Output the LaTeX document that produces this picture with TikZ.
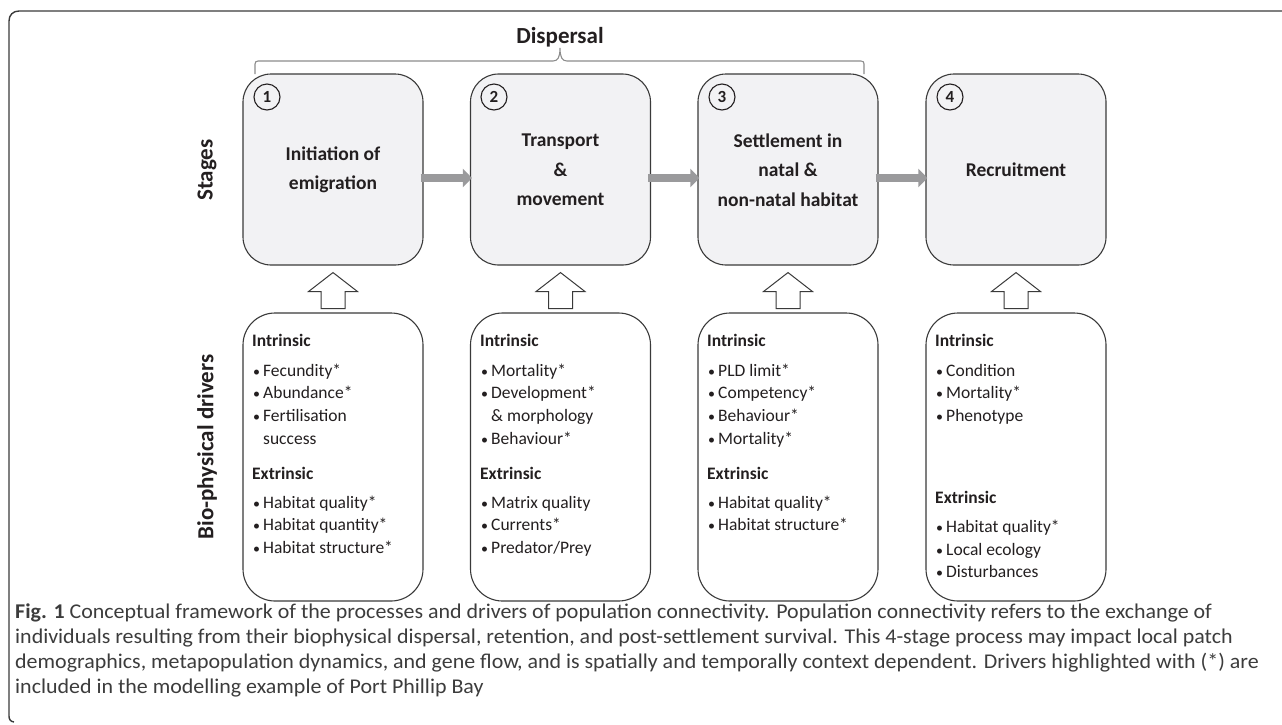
\documentclass[tikz,border=0pt]{standalone}
\usepackage{fontspec}
\setmainfont{Carlito}
\usetikzlibrary{arrows.meta}
\definecolor{boxline}{HTML}{3A3A3A}
\definecolor{boxfill}{HTML}{F2F2F4}
\definecolor{arrowgray}{HTML}{9A9A9C}
\definecolor{bracketgray}{HTML}{8C8C8C}
\definecolor{inktext}{HTML}{231F20}
\definecolor{captext}{HTML}{3C3C3C}
\tikzset{
  stagebox/.style={draw=boxline, fill=boxfill, line width=1.1pt, rounded corners=28pt, minimum width=180pt, minimum height=191pt, inner sep=0pt},
  driverbox/.style={draw=boxline, fill=white, line width=1.1pt, rounded corners=32pt, minimum width=180pt, minimum height=288pt, inner sep=0pt},
  stagetext/.style={align=center, text=inktext, font=\fontsize{19.5}{29.5}\selectfont\bfseries, inner sep=0pt},
  numcirc/.style={circle, draw=inktext, line width=1.1pt, minimum size=26pt, inner sep=0pt, text=inktext, font=\fontsize{17}{17}\selectfont\bfseries},
  drivertext/.style={align=left, anchor=north west, text=inktext, font=\fontsize{17.5}{22.6}\selectfont, inner sep=0pt},
  sidelabel/.style={rotate=90, text=inktext, font=\fontsize{23}{23}\selectfont\bfseries, inner sep=0pt},
  grayarrow/.style={draw=arrowgray, line width=8pt, -{Triangle[length=9pt,width=18pt]}},
  bracketline/.style={draw=bracketgray, line width=1.1pt},
  hollowarrow/.pic={\draw[draw=boxline, fill=white, line width=1pt, line join=miter] (-12,36) -- (-12,19) -- (-24.5,19) -- (0,0) -- (24.5,19) -- (12,19) -- (12,36) -- cycle;}
}
\newcommand{\bul}[1]{\hspace*{1pt}\makebox[10pt][l]{\fontsize{14}{14}\selectfont•}#1}
\newcommand{\cont}[1]{\hspace*{11pt}#1}
\newcommand{\topstrut}{\rule{0pt}{13.5pt}}
\begin{document}
\begin{tikzpicture}[x=1pt,y=-1pt]
\useasboundingbox (0,0) rectangle (1282,724);
% outer frame
\draw[draw=boxline, line width=1.4pt] (14,722) .. controls (10.5,721.5) and (9,719.5) .. (9,716) -- (9,21) .. controls (9,15) and (13,11) .. (19,11) -- (1282,11);

% stage boxes
\node[stagebox] (s1) at (333,169.5) {};
\node[stagebox] (s2) at (560.5,169.5) {};
\node[stagebox] (s3) at (788,169.5) {};
\node[stagebox] (s4) at (1016,169.5) {};

\node[numcirc] (n1) at (267,97) {1};
\node[numcirc] (n2) at (494,97) {2};
\node[numcirc] (n3) at (722,97) {3};
\node[numcirc] (n4) at (950,97) {4};

\node[stagetext] (t1) at (333,170) {Initiation of\\emigration};
\node[stagetext] (t2) at (560.5,170) {Transport\\\&\\movement};
\node[stagetext] (t3) at (788,170) {Settlement in\\natal \&\\non-natal habitat};
\node[stagetext] (t4) at (1016,170) {Recruitment};

% gray arrows
\draw[grayarrow] ([yshift=-8.5pt,xshift=-3pt]s1.east) -- ([yshift=-8.5pt,xshift=2pt]s2.west);
\draw[grayarrow] ([yshift=-8.5pt,xshift=-3pt]s2.east) -- ([yshift=-8.5pt,xshift=2pt]s3.west);
\draw[grayarrow] ([yshift=-8.5pt,xshift=-3pt]s3.east) -- ([yshift=-8.5pt,xshift=2pt]s4.west);

% dispersal bracket
\coordinate (bl) at (255,74);
\coordinate (br) at (864,74);
\coordinate (bt) at (560,48);
\draw[bracketline] (bl) -- (255,64) .. controls (255,62) and (256,61) .. (258,61) -- (553,61) .. controls (558,61) and (560,57) .. (bt) .. controls (560,57) and (562,61) .. (567,61) -- (861,61) .. controls (863,61) and (864,62) .. (864,64) -- (br);
\node[text=inktext, font=\fontsize{23}{23}\selectfont\bfseries, inner sep=0pt] (disp) at (560,37) {Dispersal};

% side labels
\node[sidelabel] (lstages) at (207,170) {Stages};
\node[sidelabel] (ldrivers) at (207,447) {Bio-physical drivers};

% driver boxes
\node[driverbox] (d1) at (333,457) {};
\node[driverbox] (d2) at (560.5,457) {};
\node[driverbox] (d3) at (788,457) {};
\node[driverbox] (d4) at (1016,457) {};

% hollow arrows
\pic at ([yshift=-7pt]s1.south) {hollowarrow};
\pic at ([yshift=-7pt]s2.south) {hollowarrow};
\pic at ([yshift=-7pt]s3.south) {hollowarrow};
\pic at ([yshift=-7pt]s4.south) {hollowarrow};

% driver texts
\node[drivertext] (x1) at (252,332.5) {\topstrut\textbf{Intrinsic}\\[7.5pt]
\bul{Fecundity*}\\\bul{Abundance*}\\\bul{Fertilisation}\\\cont{success}\\[12.5pt]
\textbf{Extrinsic}\\[6.5pt]
\bul{Habitat quality*}\\\bul{Habitat quantity*}\\\bul{Habitat structure*}};
\node[drivertext] (x2) at (480,332.5) {\topstrut\textbf{Intrinsic}\\[7.5pt]
\bul{Mortality*}\\\bul{Development*}\\\cont{\& morphology}\\\bul{Behaviour*}\\[12.5pt]
\textbf{Extrinsic}\\[6.5pt]
\bul{Matrix quality}\\\bul{Currents*}\\\bul{Predator/Prey}};
\node[drivertext] (x3) at (707,332.5) {\topstrut\textbf{Intrinsic}\\[7.5pt]
\bul{PLD limit*}\\\bul{Competency*}\\\bul{Behaviour*}\\\bul{Mortality*}\\[12.5pt]
\textbf{Extrinsic}\\[6.5pt]
\bul{Habitat quality*}\\\bul{Habitat structure*}};
\node[drivertext] (x4) at (935,332.5) {\topstrut\textbf{Intrinsic}\\[7.5pt]
\bul{Condition}\\\bul{Mortality*}\\\bul{Phenotype}\\[59.4pt]
\textbf{Extrinsic}\\[6.5pt]
\bul{Habitat quality*}\\\bul{Local ecology}\\\bul{Disturbances}};

% caption
\node[align=left, anchor=north west, xscale=1.045, text=captext, inner sep=0pt, font=\fontsize{21}{25}\selectfont] (cap) at (15,602) {\rule{0pt}{16pt}\textbf{Fig. 1} Conceptual framework of the processes and drivers of population connectivity. Population connectivity refers to the exchange of\\
individuals resulting from their biophysical dispersal, retention, and post-settlement survival. This 4-stage process may impact local patch\\
demographics, metapopulation dynamics, and gene flow, and is spatially and temporally context dependent. Drivers highlighted with (*) are\\
included in the modelling example of Port Phillip Bay};
\end{tikzpicture}
\end{document}
